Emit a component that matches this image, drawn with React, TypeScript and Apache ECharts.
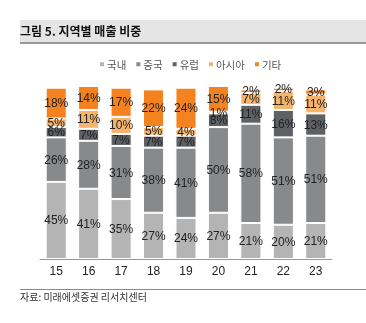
import React, { useEffect, useRef } from "react";
import * as echarts from "echarts";

const categories = ["15", "16", "17", "18", "19", "20", "21", "22", "23"];
const domestic = [45, 41, 35, 27, 24, 27, 21, 20, 21];
const china = [26, 28, 31, 38, 41, 50, 58, 51, 51];
const europe = [6, 7, 7, 7, 7, 8, 11, 16, 13];
const asia = [5, 11, 10, 5, 4, 1, 7, 11, 11];
const others = [18, 14, 17, 22, 24, 15, 2, 2, 3];

const seriesNames = ["국내", "중국", "유럽", "아시아", "기타"];
const seriesData = [domestic, china, europe, asia, others];
const colors = ["#b4b4b4", "#87898b", "#5e6063", "#f5b46c", "#f4821f"];

const FONT = "'Noto Sans CJK KR', 'Noto Sans', sans-serif";
const NUMFONT = "'Liberation Sans', Arial, sans-serif";

export default function App() {
  const ref = useRef<HTMLDivElement>(null);
  useEffect(() => {
    if (!ref.current) return;
    const chart = echarts.init(ref.current, undefined, { renderer: "svg" });
    chart.setOption({
      animation: false,
      textStyle: { fontFamily: FONT },
      title: [
        {
          text: "그림 5. 지역별 매출 비중",
          left: 20,
          top: 24,
          padding: 0,
          textStyle: { fontSize: 12, fontWeight: "bold", color: "#111", fontFamily: FONT },
        },
        {
          text: "자료: 미래에셋증권 리서치센터",
          left: 20,
          top: 291,
          padding: 0,
          textStyle: { fontSize: 10, fontWeight: "normal", color: "#333", fontFamily: FONT },
        },
      ],
      graphic: [
        { type: "rect", z: -1, shape: { x: 20, y: 20, width: 346, height: 23 }, style: { fill: "#e5e5e5" } },
        { type: "line", shape: { x1: 20, y1: 43, x2: 366, y2: 43 }, style: { stroke: "#7a7a7a", lineWidth: 1.5 } },
        { type: "line", shape: { x1: 20, y1: 289.5, x2: 366, y2: 289.5 }, style: { stroke: "#8a8a8a", lineWidth: 1 } },
      ],
      color: colors,
      legend: {
        data: seriesNames,
        left: 98,
        top: 59,
        padding: 0,
        itemWidth: 6,
        itemHeight: 6,
        itemGap: 8,
        icon: "rect",
        textStyle: { fontSize: 10.5, color: "#555", fontFamily: FONT, padding: [0, 0, 0, -3] },
      },
      grid: { left: 40, right: 34, top: 86, bottom: 64 },
      xAxis: {
        type: "category",
        data: categories,
        axisLine: { lineStyle: { color: "#999", width: 1 } },
        axisTick: { inside: true, length: 3, lineStyle: { color: "#999" } },
        axisLabel: { fontSize: 12, color: "#222", margin: 6, fontFamily: NUMFONT },
      },
      yAxis: {
        type: "value",
        min: 0,
        max: 101,
        show: false,
        splitLine: { show: false },
      },
      series: seriesNames.map((name, i) => ({
        name,
        type: "bar",
        stack: "total",
        data: seriesData[i],
        barCategoryGap: "35%",
        itemStyle: { color: colors[i], borderColor: "#fff", borderWidth: 1 },
        label: {
          show: true,
          position: "inside",
          formatter: "{c}%",
          fontSize: 12,
          color: "#222",
          fontFamily: NUMFONT,
        },
      })),
    });
    return () => chart.dispose();
  }, []);
  return <div ref={ref} style={{ position: "fixed", left: 0, top: 0, width: 366, height: 323 }} />;
}
